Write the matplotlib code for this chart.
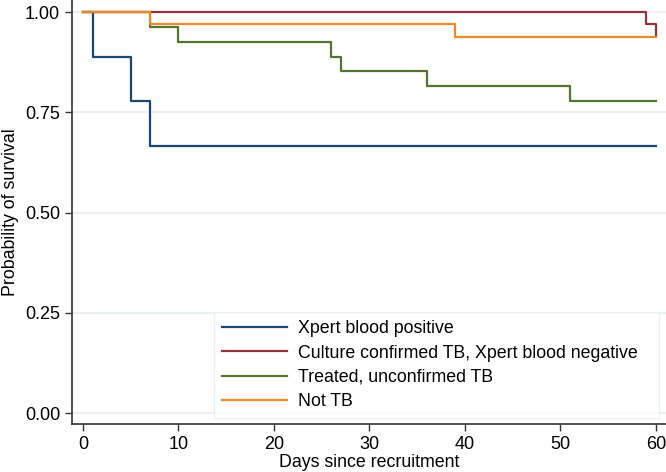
import numpy as np
import matplotlib
matplotlib.use("Agg")
import matplotlib.pyplot as plt

plt.rcParams['font.family'] = ['Liberation Sans', 'DejaVu Sans']

# Kaplan-Meier step data (day, survival after step)
blue_t = [0, 1, 5, 7, 60]
blue_s = [1.0, 0.889, 0.778, 0.667, 0.667]
red_t = [0, 59, 60]
red_s = [1.0, 0.97, 0.94]
green_t = [0, 7, 10, 26, 27, 36, 51, 60]
green_s = [1.0, 0.963, 0.926, 0.889, 0.852, 0.815, 0.778, 0.778]
orange_t = [0, 7, 39, 60]
orange_s = [1.0, 0.97, 0.9375, 0.9375]

labels = ["Xpert blood positive",
          "Culture confirmed TB, Xpert blood negative",
          "Treated, unconfirmed TB",
          "Not TB"]
colors = ["#1a476f", "#90353b", "#55752f", "#e8892b"]

yticks = [0.0, 0.25, 0.5, 0.75, 1.0]
xticks = [0, 10, 20, 30, 40, 50, 60]

fig = plt.figure(figsize=(6.66, 4.72), dpi=100)
ax = fig.add_axes([72/666, 1 - 424/472, 1 - 72/666, 424/472])

series = [(blue_t, blue_s), (red_t, red_s), (green_t, green_s), (orange_t, orange_s)]
for (t, s), c, lab in zip(series, colors, labels):
    ax.step(t, s, where='post', color=c, lw=1.6, label=lab)

ax.set_xlim(-1.15, 61.05)
ax.set_ylim(-0.027, 1.03)
ax.set_yticks(yticks)
ax.set_yticklabels(["%.2f" % v for v in yticks])
ax.set_xticks(xticks)
for v in yticks:
    ax.axhline(v, color="#e6eef0", lw=1.2, zorder=0)

ax.spines['top'].set_visible(False)
ax.spines['right'].set_visible(False)
ax.spines['left'].set_color('#333333')
ax.spines['bottom'].set_color('#333333')
ax.spines['left'].set_linewidth(1.2)
ax.spines['bottom'].set_linewidth(1.2)
ax.tick_params(axis='both', labelsize=13, length=5, color='#333333', width=1)

ax.set_xlabel("Days since recruitment", fontsize=12.75, labelpad=1)
ax.set_ylabel("Probability of survival", fontsize=12.75, labelpad=4)

leg = ax.legend(loc='lower left',
                bbox_to_anchor=(214/666, 1 - 418/472, 445/666, 106/472),
                bbox_transform=fig.transFigure, mode='expand', fontsize=12.75,
                frameon=True, fancybox=False, handlelength=3.7, handletextpad=0.6,
                labelspacing=0.41, borderpad=0.45, borderaxespad=0)
leg.get_frame().set_edgecolor('#e6eef0')
leg.get_frame().set_linewidth(1.0)

fig.savefig("out.png", dpi=100)
